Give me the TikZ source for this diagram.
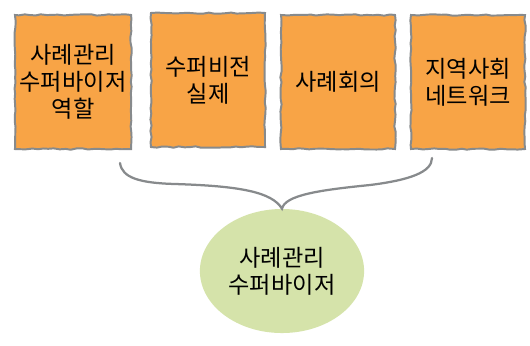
\documentclass[tikz,border=0pt]{standalone}
\usepackage{fontspec}
\newfontfamily\kr{Noto Sans CJK KR}
\usetikzlibrary{shapes.geometric,decorations.pathmorphing}
\definecolor{postit}{RGB}{248,164,70}
\definecolor{pencil}{RGB}{135,138,140}
\definecolor{leaf}{RGB}{213,227,170}
\begin{document}
\begin{tikzpicture}[
        x=0.025cm, y=-0.025cm,
        card/.style={rectangle, draw=pencil, fill=postit, line width=1.4pt, minimum width=2.85cm, minimum height=3.35cm, align=center, font=\kr\fontsize{16.5}{19}\selectfont,
            decorate, decoration={random steps, segment length=4pt, amplitude=0.5pt}},
        role/.style={ellipse, fill=leaf, minimum width=3.25cm, minimum height=3.1cm, align=center, font=\kr\fontsize{16.5}{19}\selectfont},
        brace/.style={draw=pencil, line width=1.6pt, line cap=round}
    ]
    \useasboundingbox (0,0) rectangle (530,345);

    % cards
    \node[card] (c1) at (73,82) {사례관리\\수퍼바이저\\역할};
    \node[card] (c2) at (208,80) {수퍼비전\\실제};
    \node[card] (c3) at (338,82) {사례회의};
    \node[card] (c4) at (468,82) {지역사회\\네트워크};

    % supervisor
    \node[role] (sv) at (282,271) {사례관리\\수퍼바이저};

    % brace
    \coordinate (bl) at (120,163);
    \coordinate (br) at (432,158);
    \draw[brace] (bl) .. controls (122,178) and (140,183) .. (175,184)
        .. controls (240,186) and (272,192) .. (sv.north)
        .. controls (285,195) and (320,190) .. (370,185)
        .. controls (410,180) and (432,172) .. (br);

\end{tikzpicture}
\end{document}
